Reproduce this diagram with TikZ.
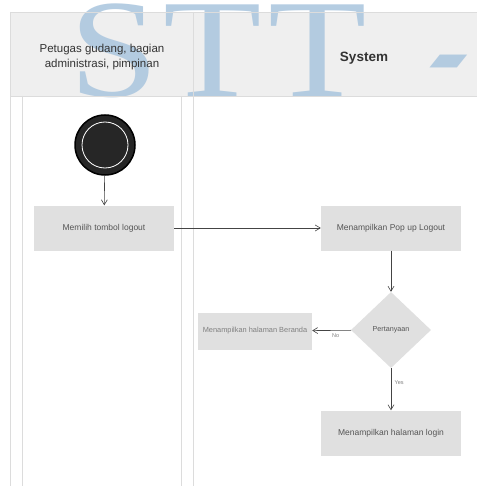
\documentclass[tikz,border=0pt]{standalone}
\usepackage{fontspec}
\setmainfont{Liberation Sans}
\newfontfamily\wmfont{Liberation Serif}
\usetikzlibrary{shapes.geometric,arrows.meta}
\definecolor{hdr}{HTML}{EFEFEF}
\definecolor{lanel}{HTML}{DCDCDC}
\definecolor{boxf}{HTML}{E0E0E0}
\definecolor{txt}{HTML}{555555}
\definecolor{wm}{HTML}{A9C5DE}
\tikzset{
  actbox/.style={fill=boxf, draw=none, minimum width=140pt, minimum height=45pt, inner sep=0pt,
    font=\fontsize{8.5}{10}\selectfont, text=txt},
  decbox/.style={diamond, fill=boxf, draw=none, minimum width=80pt, minimum height=76pt, inner sep=0pt,
    font=\fontsize{7.2}{8}\selectfont, text=txt, aspect=1.05},
  flow/.style={draw=txt!80!black, line width=0.6pt, -{Straight Barb[length=5pt,width=6pt]}},
  lbl/.style={font=\fontsize{5.5}{6}\selectfont, text=gray},
  lane/.style={draw=lanel, line width=0.8pt},
  hdrtxt/.style={font=\fontsize{11.5}{15}\selectfont, text=black!80, align=center},
  wmark/.style={text=wm, opacity=0.85, inner sep=0pt}
}
\begin{document}
\begin{tikzpicture}[x=1pt,y=-1pt]
\useasboundingbox (0,0) rectangle (477,486);
\fill[white] (0,0) rectangle (477,486);
% swimlanes
\fill[hdr] (10,12) rectangle (477,96);
% watermark
\node[wmark, font=\wmfont\fontsize{140}{140}\selectfont, anchor=base west, xscale=1.15] (wm1) at (69,97) {S\kern4pt T\kern6pt T};
\node[wmark, font=\fontsize{40}{40}\bfseries, xslant=0.8, xscale=2.7, yscale=2.7] (wm2) at (440,72) {-};
\draw[lane] (10,12) -- (477,12);
\draw[lane] (10,12) -- (10,486);
\draw[lane] (22,96) -- (22,486);
\draw[lane] (10,96) -- (477,96);
\draw[lane] (193,12) -- (193,486);
\draw[lane] (181,96) -- (181,486);
\node[hdrtxt] (h1) at (102,57) {Petugas gudang, bagian\\administrasi, pimpinan};
\node[hdrtxt, font=\fontsize{13.5}{15}\bfseries] (h2) at (364,58) {System};
% start
\node[circle, fill=black!85, draw=black, line width=1.5pt, minimum size=60pt, inner sep=0pt] (start) at (105,145) {};
\draw[white, line width=0.8pt] (start.center) circle (23pt);
% activities
\node[actbox] (a1) at (104,228) {Memilih tombol logout};
\node[actbox] (a2) at (391,228) {Menampilkan Pop up Logout};
\node[decbox] (d1) at (391,330) {Pertanyaan};
\node[actbox, minimum width=114pt, minimum height=37pt, text=gray, font=\fontsize{7.4}{8}\selectfont] (a3) at (255,331) {Menampilkan halaman Beranda};
\node[actbox] (a4) at (391,433) {Menampilkan halaman login};
% flows
\draw[flow] (start) -- (a1);
\draw[flow] (a1) -- (a2);
\draw[flow] (a2) -- (d1);
\draw[flow] (d1) -- node[lbl, below, pos=0.4] {No} (a3);
\draw[flow] (d1) -- node[lbl, right, pos=0.35] {Yes} (a4);
\end{tikzpicture}
\end{document}
